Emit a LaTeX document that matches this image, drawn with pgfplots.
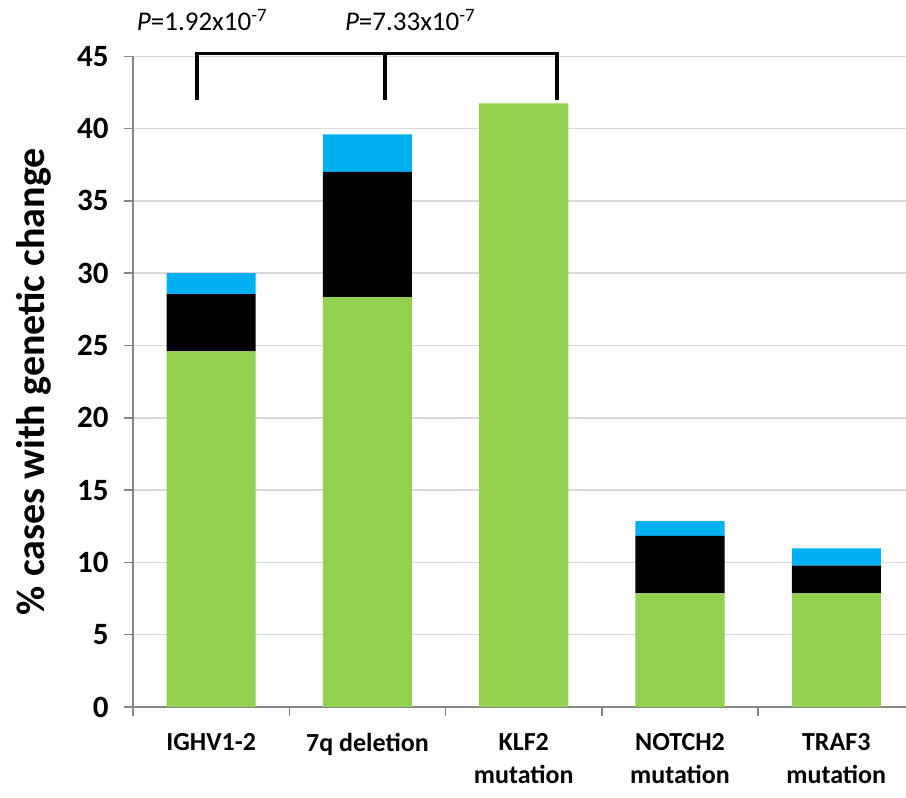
\documentclass[border=0pt]{standalone}
\usepackage{pgfplots}
\pgfplotsset{compat=1.18}
\usepackage{fontspec}
\setmainfont{Carlito}
\definecolor{cgreen}{HTML}{92D050}
\definecolor{cblue}{HTML}{00B0F0}
\definecolor{caxis}{HTML}{868686}
\definecolor{cgrid}{HTML}{D9D9D9}
\begin{document}
\begin{tikzpicture}[x=1pt,y=1pt]
\useasboundingbox (0,0) rectangle (906,798);
\begin{axis}[
  at={(133pt,91pt)}, anchor=south west,
  scale only axis, width=773pt, height=650.7pt,
  xmin=-0.5, xmax=4.446, ymin=0, ymax=45,
  ybar stacked, bar width=0.57,
  axis x line=bottom, axis y line=left,
  axis line style={-, caxis, line width=1.5pt},
  xtick={0,1,2,3,4},
  xticklabels={IGHV1-2, 7q deletion, KLF2\\mutation, NOTCH2\\mutation, TRAF3\\mutation},
  minor xtick={-0.5,0.5,1.5,2.5,3.5},
  ytick={0,5,...,45},
  /pgf/number format/assume math mode=true,
  tick align=outside,
  major tick length=9pt, minor tick length=9pt,
  xtick style={draw=none},
  minor x tick style={draw=caxis, line width=1.5pt},
  ytick style={draw=caxis, line width=1.5pt},
  ymajorgrids, grid style={cgrid, line width=1.5pt},
  yticklabel style={font=\fontsize{31}{36}\selectfont\bfseries, xshift=-12pt},
  xticklabel style={font=\fontsize{26}{33}\selectfont\bfseries, align=center, yshift=-14pt},
  ylabel={\% cases with genetic change},
  ylabel style={font=\fontsize{40}{48}\selectfont\bfseries, at={(axis description cs:-0.128,0.5)}, anchor=center, rotate=0},
  clip=false,
]
\addplot[fill=cgreen, draw=none] coordinates {(0,24.6) (1,28.35) (2,41.75) (3,7.86) (4,7.86)};
\addplot[fill=black, draw=none] coordinates {(0,3.95) (1,8.65) (2,0) (3,3.97) (4,1.91)};
\addplot[fill=cblue, draw=none] coordinates {(0,1.45) (1,2.6) (2,0) (3,1.03) (4,1.2)};
\draw[black, line width=3.5pt] (axis cs:-0.09,41.95) -- (axis cs:-0.09,45.2) -- (axis cs:2.214,45.2) -- (axis cs:2.214,41.95);
\draw[black, line width=3.5pt] (axis cs:1.113,45.2) -- (axis cs:1.113,41.95);
\node[anchor=base, font=\fontsize{27}{32}\selectfont] at (axis cs:-0.058,46.75) {\textit{P}=1.92x10\textsuperscript{-7}};
\node[anchor=base, font=\fontsize{27}{32}\selectfont] at (axis cs:1.273,46.75) {\textit{P}=7.33x10\textsuperscript{-7}};
\end{axis}
\end{tikzpicture}
\end{document}
